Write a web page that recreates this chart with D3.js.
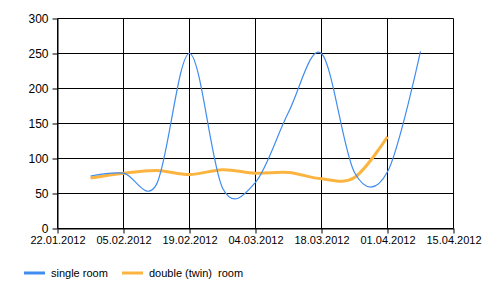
<!DOCTYPE html>
<html>
<head>
<meta charset="utf-8">
<script src="https://cdn.jsdelivr.net/npm/d3@7"></script>
<style>
  body { margin: 0; background: #fff; }
  svg text { font-family: "Liberation Sans", Arial, sans-serif; font-size: 11px; fill: #000; }
</style>
</head>
<body>
<svg id="chart" width="500" height="296"></svg>
<script>
// weekly dates (dd.mm.yyyy)
const dates = ['29.01.2012', '05.02.2012', '12.02.2012', '19.02.2012', '26.02.2012', '04.03.2012',
               '11.03.2012', '18.03.2012', '25.03.2012', '01.04.2012', '08.04.2012'];
const singleRoom = [75, 79, 63, 250, 58, 66, 166, 250, 80, 81, 253];
const doubleRoom = [72, 79, 83, 77, 84, 79, 80, 71, 73, 131];
const seriesNames = ['single room', 'double (twin)  room'];
const seriesColours = ['#418CF0', '#FCB441'];
const yTicks = [0, 50, 100, 150, 200, 250, 300];
const xTickLabels = ['22.01.2012', '05.02.2012', '19.02.2012', '04.03.2012', '18.03.2012', '01.04.2012', '15.04.2012'];

const parseDate = d3.utcParse('%d.%m.%Y');
const formatDate = d3.utcFormat('%d.%m.%Y');

const svg = d3.select('#chart');
const margin = { left: 57.5, right: 46.5, top: 18.5, bottom: 67.5 };
const width = +svg.attr('width');
const height = +svg.attr('height');

const xTicks = xTickLabels.map(parseDate);

const xScale = d3.scaleUtc()
  .domain([xTicks[0], xTicks[xTicks.length - 1]])
  .range([margin.left, width - margin.right]);

const yScale = d3.scaleLinear()
  .domain([0, 300])
  .range([height - margin.bottom, margin.top]);

// grid
const grid = svg.append('g').attr('class', 'grid');
grid.selectAll('.vgrid').data(xTicks)
  .enter().append('line')
    .attr('x1', d => xScale(d)).attr('x2', d => xScale(d))
    .attr('y1', yScale(300)).attr('y2', yScale(0))
    .attr('stroke', '#000');
grid.selectAll('.hgrid').data(yTicks)
  .enter().append('line')
    .attr('x1', xScale.range()[0]).attr('x2', xScale.range()[1])
    .attr('y1', d => yScale(d)).attr('y2', d => yScale(d))
    .attr('stroke', '#000');

// axes
const xAxis = d3.axisBottom(xScale)
  .tickValues(xTicks)
  .tickFormat(formatDate)
  .tickSizeInner(5)
  .tickSizeOuter(0)
  .tickPadding(3);
const yAxis = d3.axisLeft(yScale)
  .tickValues(yTicks)
  .tickSizeInner(5)
  .tickSizeOuter(0)
  .tickPadding(4);

const xAxisG = svg.append('g')
  .attr('transform', `translate(0,${yScale(0)})`)
  .call(xAxis);
const yAxisG = svg.append('g')
  .attr('transform', `translate(${xScale.range()[0]},0)`)
  .call(yAxis);
[xAxisG, yAxisG].forEach(g => {
  g.attr('font-size', null).attr('font-family', null);
  g.selectAll('path, line').attr('stroke', '#000');
  g.selectAll('text').attr('fill', '#000');
});
yAxisG.selectAll('text').style('font-size', '12px');

// lines
const line = d3.line()
  .x(d => xScale(d.date))
  .y(d => yScale(d.value))
  .curve(d3.curveCardinal.tension(0));

const toPoints = values => values.map((v, i) => ({ date: parseDate(dates[i]), value: v }));

svg.append('path')
  .datum(toPoints(doubleRoom))
  .attr('fill', 'none')
  .attr('stroke', seriesColours[1])
  .attr('stroke-width', 3)
  .attr('d', line);

svg.append('path')
  .datum(toPoints(singleRoom))
  .attr('fill', 'none')
  .attr('stroke', seriesColours[0])
  .attr('stroke-width', 1.2)
  .attr('d', line);

// legend
const legendX = [24, 122];
const legend = svg.append('g').attr('class', 'legend');
const items = legend.selectAll('g').data(seriesNames)
  .enter().append('g')
    .attr('transform', (d, i) => `translate(${legendX[i]},273)`);
items.append('line')
  .attr('x1', 0).attr('x2', 21)
  .attr('stroke', (d, i) => seriesColours[i])
  .attr('stroke-width', 3);
items.append('text')
  .attr('x', 27)
  .attr('dy', '0.35em')
  .style('white-space', 'pre')
  .text(d => d);
</script>
</body>
</html>
